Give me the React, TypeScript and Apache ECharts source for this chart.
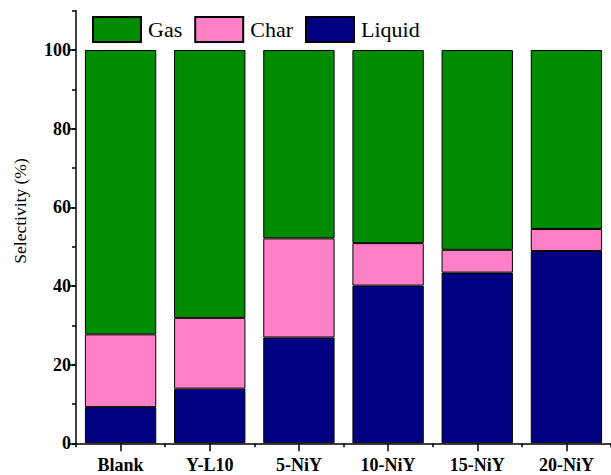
import React, { useEffect, useRef } from "react";
import * as echarts from "echarts";

const categories = ["Blank", "Y-L10", "5-NiY", "10-NiY", "15-NiY", "20-NiY"];
const liquid = [9.2, 13.9, 26.9, 40.1, 43.4, 48.9];
const charVals = [18.5, 18.0, 25.2, 10.8, 5.8, 5.6];
const gas = [72.3, 68.1, 47.9, 49.1, 50.8, 45.5];
const yMajorTicks = [0, 20, 40, 60, 80, 100];
const legendOrder = ["Gas", "Char", "Liquid"];

const FONT = "'Liberation Serif', 'Times New Roman', serif";

export default function App() {
  const ref = useRef<HTMLDivElement>(null);
  useEffect(() => {
    if (!ref.current) return;
    const chart = echarts.init(ref.current, null, { renderer: "svg" });
    const border = { borderColor: "#000", borderWidth: 1 };
    chart.setOption({
      animation: false,
      backgroundColor: "#fff",
      grid: { left: 76, right: -2, top: 10.7, bottom: 31.7, containLabel: false },
      legend: {
        data: legendOrder,
        left: 92,
        top: 16,
        padding: 0,
        itemWidth: 48,
        itemHeight: 25,
        itemGap: 12,
        icon: "rect",
        textStyle: { fontFamily: FONT, fontSize: 22, color: "#000", padding: [0, 0, 0, 2] },
      },
      xAxis: [
        {
          type: "category",
          data: categories,
          position: "bottom",
          axisLine: { show: true, onZero: false, lineStyle: { color: "#000", width: 1.5 } },
          axisTick: { show: true, alignWithLabel: true, length: 8, lineStyle: { color: "#000", width: 1.5 } },
          axisLabel: { fontFamily: FONT, fontSize: 18, fontWeight: "bold", color: "#000", margin: 13 },
          splitLine: { show: false },
        },
        {
          type: "category",
          data: categories,
          position: "bottom",
          axisLine: { show: false, onZero: false },
          axisTick: { show: true, alignWithLabel: false, length: 4, lineStyle: { color: "#000", width: 1.5 } },
          axisLabel: { show: false },
          splitLine: { show: false },
        },
      ],
      yAxis: [
        {
          type: "value",
          min: 0,
          max: 110,
          interval: 10,
          position: "left",
          axisLine: { show: true, lineStyle: { color: "#000", width: 1.5 } },
          axisTick: { show: true, length: 4, lineStyle: { color: "#000", width: 1.5 } },
          axisLabel: { show: false },
          splitLine: { show: false },
        },
        {
          type: "value",
          min: 0,
          max: 110,
          interval: 20,
          position: "left",
          axisLine: { show: false },
          axisTick: { show: true, length: 8, customValues: yMajorTicks, lineStyle: { color: "#000", width: 1.5 } },
          axisLabel: {
            customValues: yMajorTicks,
            formatter: (v: number) => (v > 100 ? "" : String(v)),
            fontFamily: FONT,
            fontSize: 18,
            fontWeight: "bold",
            color: "#000",
            margin: 5,
          },
          splitLine: { show: false },
        },
      ],
      graphic: [
        {
          type: "text",
          x: 19.5,
          y: 211,
          rotation: Math.PI / 2,
          style: {
            text: "Selectivity (%)",
            fontFamily: FONT,
            fontSize: 17.5,
            fill: "#000",
            textAlign: "center",
            textVerticalAlign: "middle",
          },
        },
      ],
      series: [
        {
          name: "Liquid",
          type: "bar",
          stack: "s",
          data: liquid,
          barCategoryGap: "20%",
          itemStyle: { color: "#000080", ...border },
        },
        {
          name: "Char",
          type: "bar",
          stack: "s",
          data: charVals,
          barCategoryGap: "20%",
          itemStyle: { color: "#FF80C6", ...border },
        },
        {
          name: "Gas",
          type: "bar",
          stack: "s",
          data: gas,
          barCategoryGap: "20%",
          itemStyle: { color: "#008C00", ...border },
        },
      ],
    });
    return () => chart.dispose();
  }, []);
  return (
    <div
      ref={ref}
      style={{ position: "fixed", left: 0, top: 0, width: 611, height: 475, background: "#fff" }}
    />
  );
}
